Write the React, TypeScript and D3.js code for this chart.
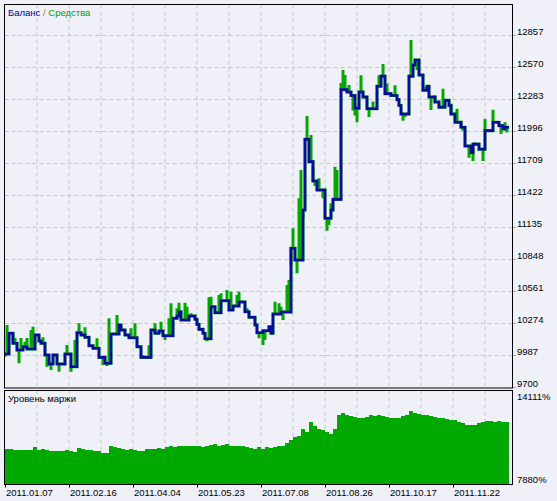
import React from 'react';
import * as d3 from 'd3';

// Right axis ticks (balance / equity)
const yTickValues = [12857, 12570, 12283, 11996, 11709, 11422, 11135, 10848, 10561, 10274, 9987, 9700];
// Bottom axis date labels and the trade numbers where they sit
const dateLabels = ['2011.01.07', '2011.02.16', '2011.04.04', '2011.05.23', '2011.07.08', '2011.08.26', '2011.10.17', '2011.11.22'];
const dateTrades = [0, 32, 64, 96, 128, 160, 192, 224];
const totalTrades = 252;

// Balance: trade number where balance changes, and new balance
const balanceTrades = [0, 2, 4, 6, 9, 11, 15, 17, 18, 20, 22, 24, 26, 30, 33, 36, 38, 40, 42, 44, 47, 50, 53, 57, 58, 60, 62, 66, 68, 73, 75, 77, 79, 84, 86, 87, 88, 92, 95, 96, 97, 99, 100, 103, 105, 108, 112, 114, 117, 120, 122, 125, 126, 129, 132, 133, 134, 138, 143, 145, 149, 150, 152, 154, 156, 160, 163, 164, 168, 171, 173, 175, 177, 179, 181, 186, 188, 190, 193, 196, 197, 198, 202, 204, 205, 207, 209, 211, 212, 215, 217, 220, 222, 223, 225, 228, 230, 233, 234, 237, 240, 244, 247, 249, 250];
const balanceValues = [9996, 10182, 10092, 10032, 10061, 10041, 10166, 10113, 10092, 9987, 9906, 9987, 9906, 9996, 9882, 10187, 10166, 10146, 10070, 10047, 9966, 9913, 10175, 10256, 10211, 10166, 10142, 10061, 9966, 10211, 10182, 10202, 10160, 10316, 10337, 10375, 10301, 10337, 10307, 10262, 10217, 10182, 10133, 10420, 10366, 10474, 10391, 10426, 10462, 10375, 10325, 10256, 10187, 10205, 10241, 10182, 10355, 10373, 10944, 10839, 11288, 11922, 11721, 11548, 11467, 11213, 11288, 11383, 12367, 12346, 12315, 12201, 12346, 12301, 12195, 12397, 12488, 12331, 12315, 12277, 12225, 12149, 12488, 12588, 12633, 12498, 12361, 12397, 12301, 12256, 12210, 12271, 12225, 12149, 12074, 12029, 11862, 11802, 11878, 11833, 11999, 12074, 12044, 12014, 12029];

// Equity excursions: trade number and equity extreme reached
const equityTrades = [0, 1, 4, 5, 7, 8, 10, 11, 13, 14, 19, 21, 23, 27, 31, 33, 35, 37, 39, 40, 46, 49, 51, 52, 54, 56, 59, 63, 65, 67, 69, 72, 75, 78, 80, 82, 83, 86, 87, 90, 91, 93, 96, 101, 102, 103, 107, 108, 111, 113, 116, 117, 119, 121, 127, 129, 130, 135, 137, 138, 139, 141, 142, 143, 144, 146, 147, 148, 149, 151, 153, 154, 155, 157, 159, 161, 162, 163, 165, 166, 167, 168, 169, 170, 172, 174, 175, 176, 178, 180, 182, 184, 187, 189, 191, 195, 199, 200, 203, 206, 210, 213, 215, 219, 223, 226, 228, 229, 232, 234, 235, 239, 240, 244, 247, 248, 250, 251];
const equityValues = [9972, 10256, 10166, 10140, 9913, 10139, 10106, 10140, 10211, 10241, 10146, 9882, 9852, 9837, 10077, 9837, 10122, 10271, 10182, 10235, 10137, 9897, 9888, 10316, 10166, 10346, 10211, 10226, 10271, 10047, 9987, 10074, 10271, 10286, 10122, 10316, 10451, 10406, 10456, 10456, 10420, 10361, 10271, 10110, 10505, 10510, 10525, 10540, 10570, 10555, 10525, 10555, 10474, 10406, 10137, 10077, 10122, 10465, 10451, 10420, 10301, 10615, 10660, 10800, 11123, 10720, 11392, 11646, 11213, 12131, 11960, 11676, 11503, 11572, 11392, 11102, 11153, 11348, 11676, 11646, 11377, 12427, 12543, 12498, 12409, 12180, 12135, 12074, 12497, 12315, 12122, 12260, 12497, 12597, 12421, 12406, 12089, 12122, 12812, 12543, 12391, 12184, 12315, 12376, 12240, 12195, 12089, 11999, 11757, 11727, 11893, 11727, 12104, 12186, 12059, 11969, 12074, 11983];

// Margin level (%), one value per two trades
const marginValues = [10266, 10233, 10200, 10167, 10200, 10134, 10167, 10333, 10200, 10233, 10134, 10101, 10068, 10101, 10101, 10134, 10068, 10034, 10300, 10266, 10200, 10167, 10101, 10068, 10001, 9935, 10399, 10333, 10300, 10233, 10200, 10266, 10167, 10101, 10068, 10233, 10266, 10233, 10300, 10266, 10333, 10399, 10366, 10465, 10399, 10432, 10465, 10399, 10432, 10366, 10399, 10498, 10532, 10465, 10498, 10532, 10432, 10465, 10399, 10432, 10366, 10300, 10266, 10333, 10266, 10333, 10300, 10366, 10465, 10432, 10598, 10797, 11029, 11128, 11592, 11360, 12056, 11725, 11559, 11493, 11327, 11195, 11526, 12520, 12587, 12454, 12388, 12355, 12321, 12288, 12355, 12454, 12388, 12520, 12421, 12355, 12321, 12288, 12255, 12388, 12520, 12785, 12587, 12553, 12520, 12454, 12388, 12355, 12288, 12255, 12222, 12156, 12123, 12056, 11957, 11857, 11824, 11857, 11924, 12023, 12089, 12089, 12056, 12089, 12023, 12056];
const marginMin = 7880;
const marginMax = 14111;

const FONT = '"Liberation Sans", Arial, sans-serif';
const BG = '#F0F0F8';
const GRID = '#C4C4CC';
const BLUE = '#0A0AA0';
const GREEN = '#00A800';

function balanceAt(i: number): number {
  let v = balanceValues[0];
  for (let k = 0; k < balanceTrades.length; k++) {
    if (balanceTrades[k] <= i) v = balanceValues[k];
    else break;
  }
  return v;
}

export default function App() {
  const W = 557;
  const H = 501;
  const left = 4.5;
  const right = 512.5;
  const mainTop = 4.5;
  const mainBottom = 388;
  const subTop = 390.5;
  const subBottom = 484.5;

  const x = d3.scaleLinear().domain([0, totalTrades]).range([5, 509]);
  const y = d3.scaleLinear().domain([9700, 12857]).range([387, 35]);
  const ym = d3.scaleLinear().domain([marginMin, marginMax]).range([484.5, 390.5]);

  const balPts: [number, number][] = balanceTrades.map((t, k) => [t, balanceValues[k]]);
  balPts.push([totalTrades, balanceValues[balanceValues.length - 1]]);
  const balLine = d3
    .line<[number, number]>()
    .x((d) => x(d[0]))
    .y((d) => y(d[1]))
    .curve(d3.curveStepAfter);

  const seg = d3
    .line<[number, number]>()
    .x((d) => x(d[0]))
    .y((d) => y(d[1]));

  const vGrid = d3.range(37, 490, 32);
  const hGrid = yTickValues.filter((v) => v !== 9700);

  return (
    <svg
      width={W}
      height={H}
      style={{ position: 'fixed', left: 0, top: 0, display: 'block' }}
      fontFamily={FONT}
    >
      <defs>
        <clipPath id="mainClip">
          <rect x={left} y={mainTop} width={right - left} height={mainBottom - mainTop} />
        </clipPath>
      </defs>
      <rect x={0} y={0} width={W} height={H} fill={BG} />

      {/* grid main */}
      {vGrid.map((gx) => (
        <line key={'vg' + gx} x1={gx} x2={gx} y1={mainTop} y2={mainBottom} stroke={GRID} strokeDasharray="4,3" />
      ))}
      {hGrid.map((v) => (
        <line key={'hg' + v} x1={left} x2={right} y1={Math.round(y(v)) + 0.5} y2={Math.round(y(v)) + 0.5} stroke={GRID} strokeDasharray="4,3" />
      ))}
      {/* grid sub */}
      {vGrid.map((gx) => (
        <line key={'vs' + gx} x1={gx} x2={gx} y1={subTop} y2={subBottom} stroke={GRID} strokeDasharray="4,3" />
      ))}

      {/* equity and balance */}
      <g clipPath="url(#mainClip)">
        <path d={balLine(balPts) || ''} fill="none" stroke={GREEN} strokeWidth={3} />
        {equityTrades.map((t, k) => (
          <path
            key={'eq' + k}
            d={seg([
              [t, balanceAt(t)],
              [t, equityValues[k]],
            ]) || ''}
            fill="none"
            stroke={GREEN}
            strokeWidth={3}
            strokeLinecap="butt"
          />
        ))}
        <path d={balLine(balPts) || ''} fill="none" stroke={BLUE} strokeWidth={2.6} />
      </g>

      {/* margin level bars */}
      {marginValues.map((v, k) => (
        <rect
          key={'m' + k}
          x={x(2 * k)}
          width={x(2 * k + 2) - x(2 * k)}
          y={ym(v)}
          height={ym(marginMin) - ym(v)}
          fill={GREEN}
          shapeRendering="crispEdges"
        />
      ))}

      {/* panel borders */}
      <rect x={left} y={mainTop} width={right - left} height={mainBottom - mainTop} fill="none" stroke="#000" strokeWidth={1} />
      <rect x={left} y={subTop} width={right - left} height={subBottom - subTop} fill="none" stroke="#000" strokeWidth={1} />

      {/* right axis */}
      {yTickValues.map((v) => (
        <g key={'yt' + v}>
          <line x1={right + 1} x2={right + 3} y1={Math.round(y(v)) + 0.5} y2={Math.round(y(v)) + 0.5} stroke="#888" />
          <text x={517} y={Math.round(y(v))} fontSize={9.5} fill="#000">
            {v}
          </text>
        </g>
      ))}
      <text x={517} y={400} fontSize={9.5} fill="#000">
        {marginMax + '%'}
      </text>
      <text x={517} y={483} fontSize={9.5} fill="#000">
        {marginMin + '%'}
      </text>

      {/* bottom axis */}
      {dateTrades.map((t, k) => (
        <g key={'dt' + k}>
          <line x1={Math.round(x(t)) + 0.5} x2={Math.round(x(t)) + 0.5} y1={subBottom} y2={subBottom + 3} stroke="#000" />
          <text x={x(t) + 1} y={496} fontSize={9.5} fill="#000">
            {dateLabels[k]}
          </text>
        </g>
      ))}

      {/* legends */}
      <text x={8} y={16} fontSize={9.5}>
        <tspan fill="#0000A0">Баланс</tspan>
        <tspan fill="#C07010"> / </tspan>
        <tspan fill="#00A000">Средства</tspan>
      </text>
      <text x={8} y={402} fontSize={9.5} fill="#000">
        Уровень маржи
      </text>
    </svg>
  );
}
